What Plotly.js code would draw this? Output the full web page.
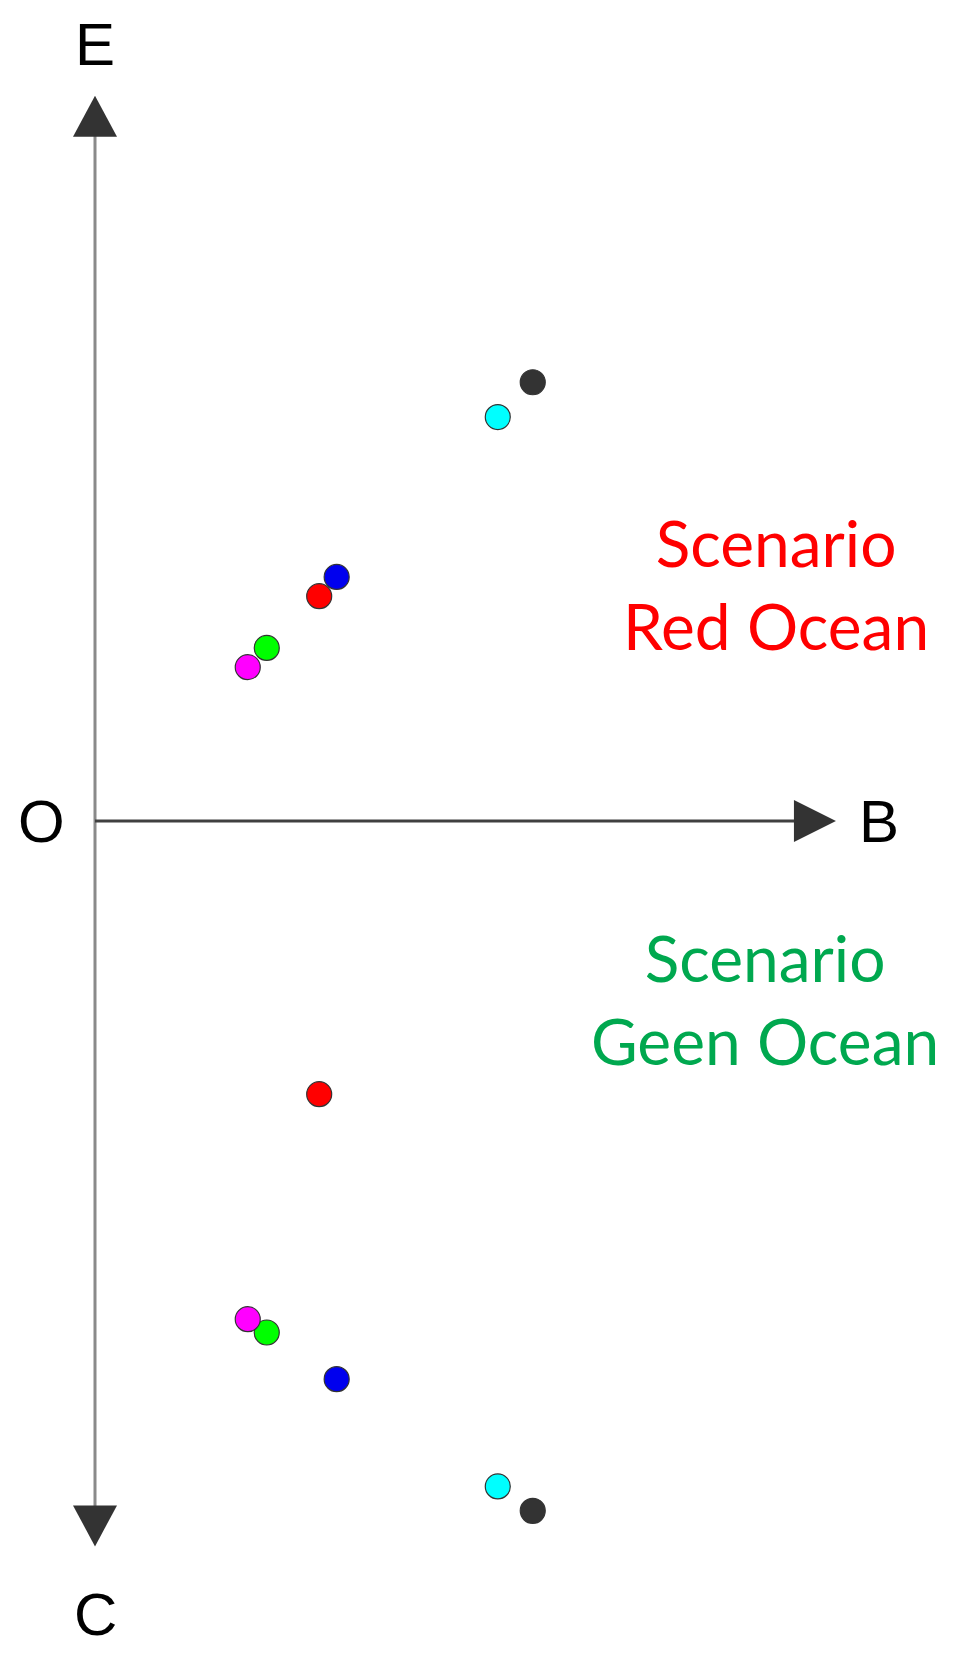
<!DOCTYPE html>
<html>
<head>
<meta charset="utf-8">
<script src="https://cdn.plot.ly/plotly-3.0.1.min.js"></script>
<style>
  html, body { margin: 0; padding: 0; background: #fff; }
  #chart { width: 953px; height: 1660px; }
</style>
</head>
<body>
<div id="chart"></div>
<script>
var CHART = document.getElementById('chart');

// one entry per coloured dot
var dotNames  = ['Black', 'Cyan', 'Blue', 'Red', 'Green', 'Magenta'];
var dotColors = ['#333333', '#00ffff', '#0000ee', '#ff0000', '#00ff00', '#ff00ff'];

// B position (same for both scenarios)
var bValues = [5.76, 5.30, 3.18, 2.95, 2.26, 2.01];
// E (red ocean, upwards) and C (green ocean, downwards)
var eValues = [5.93, 5.46, 3.30, 3.04, 2.34, 2.08];
var cValues = [-9.32, -8.99, -7.54, -3.69, -6.91, -6.73];

var axisEnd = 9.8;   // tips of the E / C arrows
var bEnd = 9.75;     // tip of the B arrow

var redOcean = {
  x: bValues,
  y: eValues,
  text: dotNames,
  name: 'Scenario Red Ocean',
  type: 'scatter',
  mode: 'markers',
  hoverinfo: 'text',
  marker: {
    size: 25,
    color: dotColors,
    line: {color: '#333333', width: 1.2}
  }
};

var greenOcean = {
  x: bValues,
  y: cValues,
  text: dotNames,
  name: 'Scenario Geen Ocean',
  type: 'scatter',
  mode: 'markers',
  hoverinfo: 'text',
  marker: {
    size: 25,
    color: dotColors,
    line: {color: '#333333', width: 1.2}
  }
};

var axisFont = {family: 'Liberation Sans, Arial, sans-serif', size: 60, color: '#000'};
var labelFont = {family: 'Lato, Open Sans, sans-serif', size: 64};

var layout = {
  width: 953,
  height: 1660,
  margin: {l: 0, r: 0, t: 10, b: 10},
  paper_bgcolor: '#fff',
  plot_bgcolor: '#fff',
  showlegend: false,
  xaxis: {range: [-1.25, 11.29], visible: false, fixedrange: true},
  yaxis: {range: [-11.2, 10.96], visible: false, fixedrange: true},
  shapes: [
    // vertical E-C axis
    {type: 'line', xref: 'x', yref: 'y', x0: 0, x1: 0, y0: -axisEnd + 0.3, y1: axisEnd - 0.3,
     line: {color: '#8a8a8a', width: 3}, layer: 'below'},
    // horizontal O-B axis
    {type: 'line', xref: 'x', yref: 'y', x0: 0, x1: bEnd - 0.3, y0: 0, y1: 0,
     line: {color: '#404040', width: 3}, layer: 'below'},
    // arrow heads
    {type: 'path', xref: 'x', yref: 'y', xsizemode: 'pixel', ysizemode: 'pixel',
     xanchor: 0, yanchor: axisEnd, path: 'M0,0 L-22,-41 L22,-41 Z',
     fillcolor: '#333333', line: {width: 0}},
    {type: 'path', xref: 'x', yref: 'y', xsizemode: 'pixel', ysizemode: 'pixel',
     xanchor: 0, yanchor: -axisEnd, path: 'M0,0 L-22,41 L22,41 Z',
     fillcolor: '#333333', line: {width: 0}},
    {type: 'path', xref: 'x', yref: 'y', xsizemode: 'pixel', ysizemode: 'pixel',
     xanchor: bEnd, yanchor: 0, path: 'M0,0 L-42,-21 L-42,21 Z',
     fillcolor: '#333333', line: {width: 0}}
  ],
  annotations: [
    {x: 0, y: 10.5, xref: 'x', yref: 'y', text: 'E', showarrow: false, font: axisFont},
    {x: 0, y: -10.72, xref: 'x', yref: 'y', text: 'C', showarrow: false, font: axisFont},
    {x: -0.7, y: 0, xref: 'x', yref: 'y', text: 'O', showarrow: false, font: axisFont},
    {x: 10.32, y: 0, xref: 'x', yref: 'y', text: 'B', showarrow: false, font: axisFont},
    {x: 8.96, y: 3.2, xref: 'x', yref: 'y', text: 'Scenario<br>Red Ocean', showarrow: false,
     align: 'center', font: Object.assign({color: '#ff0000'}, labelFont)},
    {x: 8.81, y: -2.4, xref: 'x', yref: 'y', text: 'Scenario<br>Geen Ocean', showarrow: false,
     align: 'center', font: Object.assign({color: '#00a84f'}, labelFont)}
  ]
};

Plotly.newPlot(CHART, [redOcean, greenOcean], layout, {displayModeBar: false, staticPlot: true});
</script>
</body>
</html>
